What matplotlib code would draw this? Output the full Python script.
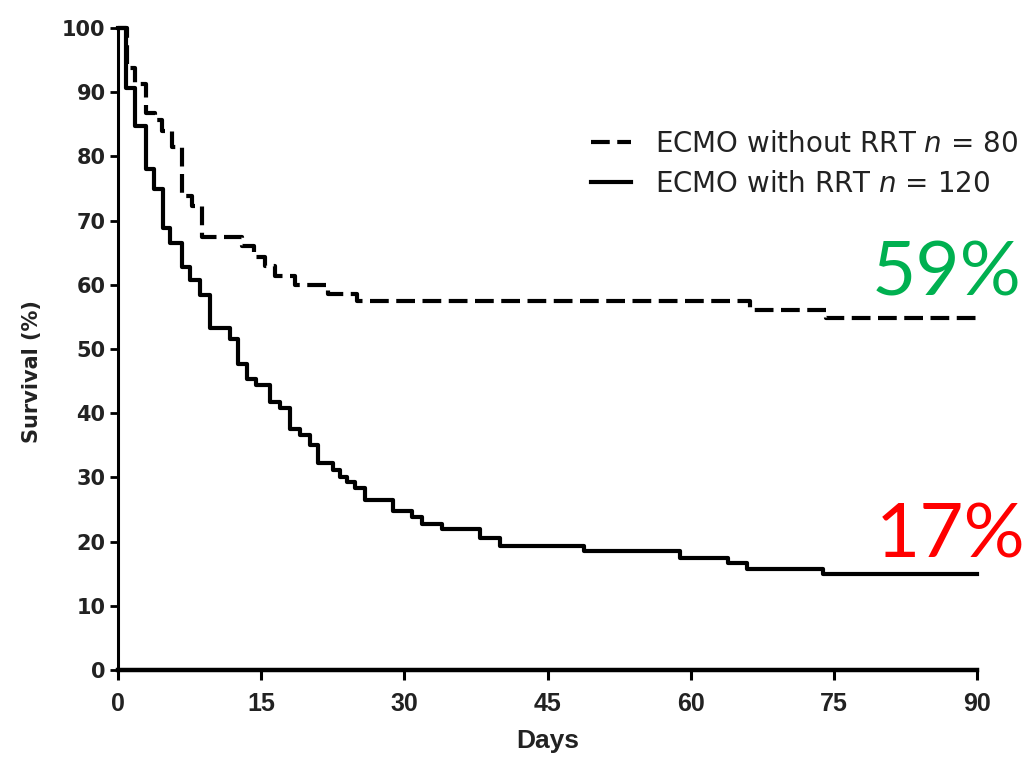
import matplotlib
matplotlib.use("Agg")
import matplotlib.pyplot as plt

# ---- data ----
days_without = [0, 0.9, 1.8, 2.9, 3.9, 4.6, 5.7, 6.7, 7.8, 8.8, 13.0, 14.2, 15.4,
                16.5, 18.5, 22.0, 25.0, 66.2, 74.2, 90]
surv_without = [100, 93.75, 91.25, 86.8, 85.6, 84.0, 81.5, 73.8, 72.3, 67.5, 66.0,
                64.3, 63.0, 61.4, 59.9, 58.6, 57.4, 56.0, 54.8, 54.8]

days_with = [0, 0.8, 1.8, 2.9, 3.8, 4.7, 5.5, 6.7, 7.5, 8.6, 9.6, 11.7, 12.6, 13.5,
             14.5, 15.9, 17.0, 18.0, 19.1, 20.1, 21.0, 22.5, 23.3, 24.0, 24.8, 25.9,
             28.8, 30.8, 31.8, 33.9, 37.9, 40.0, 48.8, 58.9, 63.9, 65.9, 73.9, 90]
surv_with = [100, 90.6, 84.7, 78.0, 75.0, 68.8, 66.5, 62.8, 60.7, 58.4, 53.2, 51.6,
             47.7, 45.4, 44.4, 41.8, 40.8, 37.6, 36.6, 35.0, 32.2, 31.2, 30.1, 29.3,
             28.3, 26.5, 24.7, 23.9, 22.8, 21.9, 20.5, 19.3, 18.5, 17.5, 16.6, 15.8,
             14.9, 14.9]

label_without = r"ECMO without RRT $\it{n}$ = 80"
label_with = r"ECMO with RRT $\it{n}$ = 120"
x_ticks = [0, 15, 30, 45, 60, 75, 90]
y_ticks = [0, 10, 20, 30, 40, 50, 60, 70, 80, 90, 100]
annot_without = "59%"
annot_with = "17%"

W, H = 1032, 758
fig = plt.figure(figsize=(W / 100, H / 100), dpi=100)
ax = fig.add_axes([118 / W, 1 - 670 / H, (977 - 118) / W, (670 - 28) / H])

ax.step(days_without, surv_without, where="post", color="black", lw=3,
        dashes=(4.5, 1.8), label=label_without, clip_on=False)
ax.step(days_with, surv_with, where="post", color="black", lw=3,
        label=label_with, clip_on=False)

ax.set_xlim(0, 90)
ax.set_ylim(0, 100)
ax.set_xticks(x_ticks)
ax.set_yticks(y_ticks)

for s in ["top", "right"]:
    ax.spines[s].set_visible(False)
ax.spines["left"].set_linewidth(2.2)
ax.spines["bottom"].set_linewidth(3.2)

ax.tick_params(axis="y", length=6, width=2, pad=3, labelsize=15)
ax.tick_params(axis="x", length=7, width=2.2, pad=9, labelsize=18)
for t in ax.get_yticklabels():
    t.set_fontweight("bold")
    t.set_family("DejaVu Sans")
    t.set_color("#222222")
for t in ax.get_xticklabels():
    t.set_fontweight("bold")
    t.set_family(["Liberation Sans Narrow", "Liberation Sans"])
    t.set_color("#222222")

ax.set_xlabel("Days", fontsize=19, fontweight="bold",
              family=["Liberation Sans Narrow", "Liberation Sans"],
              color="#222222", labelpad=9)
ax.set_ylabel("Survival (%)", fontsize=15, fontweight="bold", family="DejaVu Sans",
              color="#222222")
ax.yaxis.set_label_coords(-0.089, 0.465)

leg = ax.legend(loc="upper left", bbox_to_anchor=(591 / W, 1 - 130 / H),
                bbox_transform=fig.transFigure, frameon=False,
                handlelength=1.45, handletextpad=0.85, labelspacing=0.42,
                borderpad=0, borderaxespad=0, prop={"family": "DejaVu Sans", "size": 20})
for t in leg.get_texts():
    t.set_color("#222222")

fig.text(1022 / W, 1 - 295 / H, annot_without, ha="right", va="baseline",
         color="#00B050", fontsize=55, family="Lato")
fig.text(1026 / W, 1 - 557 / H, annot_with, ha="right", va="baseline",
         color="#FF0000", fontsize=55, family="Lato")

fig.savefig("out.png", dpi=100)
